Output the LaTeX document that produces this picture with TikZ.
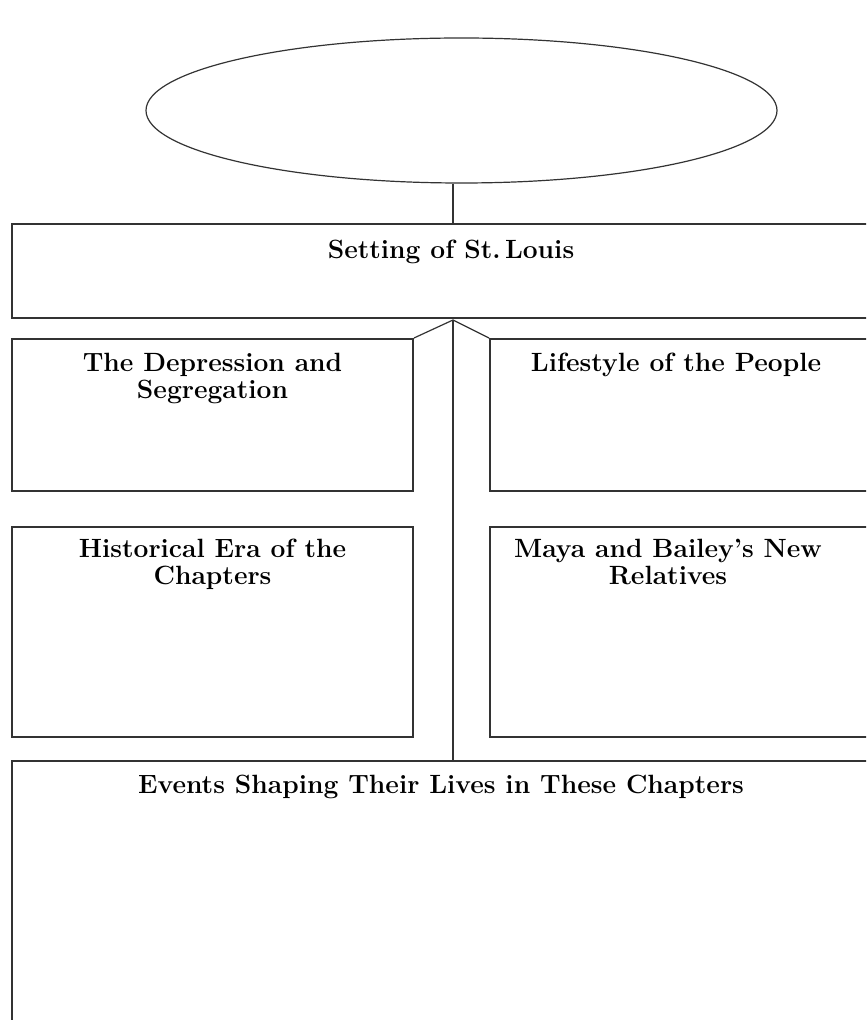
\documentclass[tikz,border=0pt]{standalone}
\usetikzlibrary{positioning}
\usetikzlibrary{shapes.geometric}
\tikzset{box/.style={draw=black!80,line width=1pt,inner sep=0pt}}
\tikzset{boxtext/.style={anchor=north,align=center,font=\fontsize{13.2}{13.5}\selectfont\bfseries,inner sep=0pt}}

\begin{document}
\begin{tikzpicture}[x=0.5pt,y=-0.5pt]
        \useasboundingbox (0,0) rectangle (866,1020);
        \clip (0,0) rectangle (866,1020);
        \node[ellipse, draw=black!80, line width=0.6pt, minimum width=315.5pt, minimum height=72.5pt, inner sep=0pt] (E) at (461.5,110.5) {};
        \node[box, minimum width=441pt, minimum height=47pt] (S) at (453,271) {};
        \node[boxtext] (St) at (451,240) {Setting of St.\,Louis};

        \node[box, minimum width=200.5pt, minimum height=76pt] (D) at (212.5,415) {};
        \node[boxtext] (Dt) at (D.north |- 0,353) {The Depression and\\Segregation};
        \node[box, minimum width=190pt, minimum height=76pt] (L) at (680,415) {};
        \node[boxtext] (Lt) at (676,353) {Lifestyle of the People};

        \node[box, minimum width=200.5pt, minimum height=105pt] (H) at (212.5,632) {};
        \node[boxtext] (Ht) at (H.north |- 0,539) {Historical Era of the\\Chapters};
        \node[box, minimum width=190pt, minimum height=105pt] (M) at (680,632) {};
        \node[boxtext] (Mt) at (668,539) {Maya and Bailey's New\\Relatives};

        \node[box, minimum width=431pt, minimum height=140pt] (V) at (443,901) {};
        \node[boxtext] (Vt) at (441,775) {Events Shaping Their Lives in These Chapters};

        \coordinate (hub) at (453,320);
        \draw[black!80, line width=0.6pt] (E.south -| S.north) -- (S.north);
        \draw[black!80, line width=0.6pt] (D.north east) -- (hub) -- (L.north west);
        \draw[black!80, line width=0.6pt] (hub) -- (hub |- V.north);
    \end{tikzpicture}
\end{document}
